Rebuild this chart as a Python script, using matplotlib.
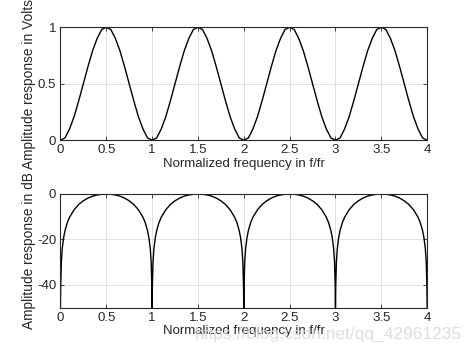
import matplotlib
matplotlib.use("Agg")
import matplotlib.pyplot as plt

# amplitude in volts, read every 0.05 in f/fr
f_volts = [round(0.05 * i, 2) for i in range(81)]
period_volts = [0.00, 0.02, 0.10, 0.21, 0.35, 0.50, 0.65, 0.79, 0.90, 0.98,
                1.00, 0.98, 0.90, 0.79, 0.65, 0.50, 0.35, 0.21, 0.10, 0.02]
volts = (period_volts * 4) + [0.00]

# amplitude in dB, denser near the nulls
df = [0.0, 0.003, 0.01, 0.02, 0.035, 0.05, 0.075, 0.1, 0.15, 0.2, 0.25, 0.3, 0.35, 0.4, 0.45,
      0.5, 0.55, 0.6, 0.65, 0.7, 0.75, 0.8, 0.85, 0.9, 0.925, 0.95, 0.965, 0.98, 0.99, 0.997]
period_db = [-50.0, -40.5, -30.0, -24.0, -19.2, -16.1, -12.6, -10.2, -6.9, -4.6, -3.0, -1.8, -0.95, -0.43, -0.11,
             0.0, -0.11, -0.43, -0.95, -1.8, -3.0, -4.6, -6.9, -10.2, -12.6, -16.1, -19.2, -24.0, -30.0, -40.5]
f_db = [k + d for k in range(4) for d in df] + [4.0]
db = period_db * 4 + [-50.0]

plt.rcParams['font.family'] = ['Liberation Sans', 'DejaVu Sans']
plt.rcParams['font.size'] = 8

fig = plt.figure(figsize=(4.72, 3.54), dpi=100)
ax1 = fig.add_axes([0.128, 0.604, 0.777, 0.319])
ax2 = fig.add_axes([0.128, 0.131, 0.777, 0.321])

tick_col = '#262626'
for ax in (ax1, ax2):
    ax.set_xlim(0, 4)
    ax.set_xticks([0, 0.5, 1, 1.5, 2, 2.5, 3, 3.5, 4])
    ax.set_xticklabels(['0', '0.5', '1', '1.5', '2', '2.5', '3', '3.5', '4'])
    ax.grid(True, color='#dcdcdc', linewidth=0.6)
    ax.set_axisbelow(True)
    ax.tick_params(direction='in', length=3, width=0.6, colors=tick_col, labelsize=9.5,
                   top=True, right=True, pad=3)
    for s in ax.spines.values():
        s.set_linewidth(0.8)
        s.set_color(tick_col)
    ax.set_xlabel('Normalized frequency in f/fr', fontsize=9.5, color=tick_col, labelpad=1)

ax1.plot(f_volts, volts, color='black', linewidth=1)
ax1.set_ylim(0, 1)
ax1.set_yticks([0, 0.5, 1])
ax1.set_yticklabels(['0', '0.5', '1'])
ax1.set_ylabel('Amplitude response in Volts', fontsize=9.9, color=tick_col, labelpad=1)

ax2.plot(f_db, db, color='black', linewidth=1)
ax2.set_ylim(-50, 0)
ax2.set_yticks([-40, -20, 0])
ax2.set_yticklabels(['-40', '-20', '0'])
ax2.set_ylabel('Amplitude response in dB', fontsize=9.9, color=tick_col, labelpad=1)

fig.text(0.979, 0.035, 'https://blog.csdn.net/qq_42961235', ha='right', va='bottom',
         fontsize=12.5, color='#d9d9d9', alpha=0.9)

fig.savefig('out.png', dpi=100)
